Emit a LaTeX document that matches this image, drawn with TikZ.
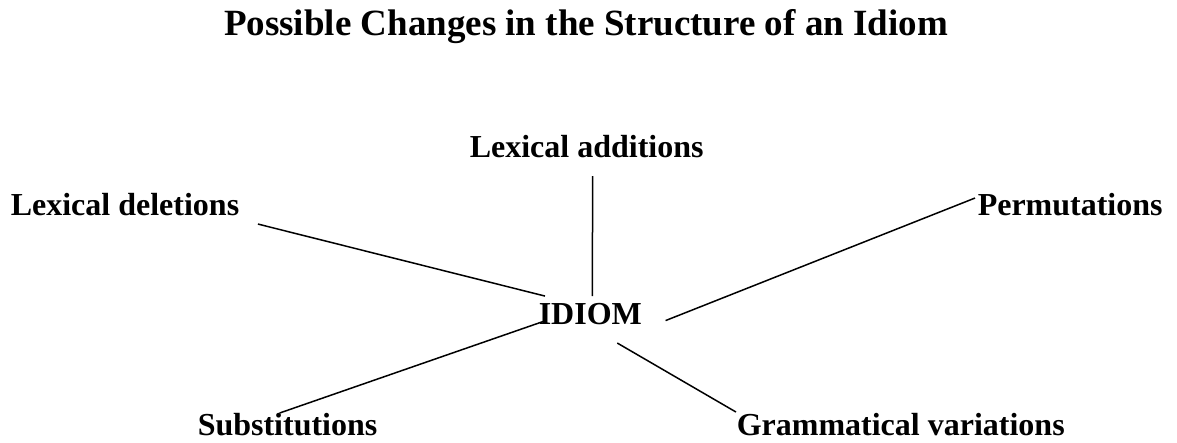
\documentclass[tikz,border=0pt]{standalone}
\usepackage{fontspec}
\setmainfont{Liberation Serif}
\usepackage{tikz}
\usetikzlibrary{shapes, arrows}

\begin{document}
\begin{tikzpicture}[-,x=1pt,y=-1pt,line width=1.5pt,
      main node/.style={font=\fontsize{32}{38}\selectfont\bfseries,inner sep=0pt,anchor=base west},
      title node/.style={font=\fontsize{37}{44}\selectfont\bfseries,inner sep=0pt,anchor=base}]
    \useasboundingbox (0,0) rectangle (1177,443);

        \node[title node] (title) at (586,36) {Possible Changes in the Structure of an Idiom};

        \node[main node] (idiom) at (538,325) {IDIOM};
        \node[main node] (add) at (469,158) {Lexical additions};
        \node[main node] (del) at (10,216) {Lexical deletions};
        \node[main node] (perm) at (977,216) {Permutations};
        \node[main node] (sub) at (197,435) {Substitutions};
        \node[main node] (gram) at (736,435) {Grammatical variations};

        \path
            ([xshift=18pt,yshift=-7pt]del.south east) edge ([xshift=7pt,yshift=7pt]idiom.north west)
            ([xshift=6pt,yshift=-17pt]add.south) edge ([xshift=2pt,yshift=7pt]idiom.north)
            ([xshift=23pt,yshift=-6pt]idiom.east) edge ([xshift=-2pt,yshift=-5pt]perm.north west)
            ([xshift=5pt,yshift=-7pt]idiom.west) edge ([xshift=-8pt,yshift=-1pt]sub.north)
            ([xshift=27pt,yshift=-17pt]idiom.south) edge (gram.north west)
        ;
    \end{tikzpicture}
\end{document}
